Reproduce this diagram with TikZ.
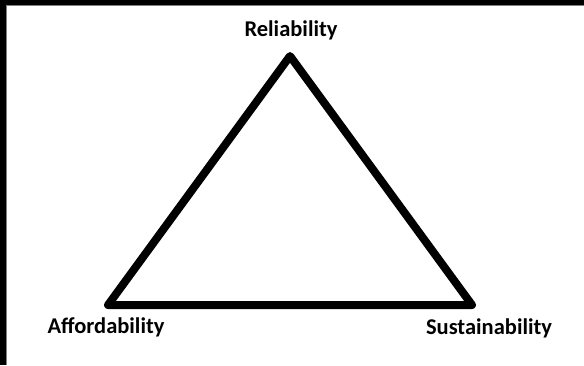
\documentclass[tikz,border=0pt]{standalone}
\usepackage{fontspec}
\setmainfont{Carlito}
\usepackage{xcolor}
\usepackage{tikz}

\begin{document}
\begin{tikzpicture}[x=1pt, y=-1pt,
        every node/.style={font=\bfseries\fontsize{22.5}{26}\selectfont, inner sep=0pt},
        side/.style={line width=8pt, line join=round}]
        \useasboundingbox (0,0) rectangle (584,365);
        \fill[black] (0,0) rectangle (584,5);
        \fill[black] (0,0) rectangle (6,365);
        \draw[gray, line width=1pt] (6,5.5) -- (584,5.5);
        \draw[gray, line width=1pt] (6.5,5) -- (6.5,365);

        \coordinate (R) at (290, 56);
        \coordinate (A) at (108, 305);
        \coordinate (S) at (472, 305);

        \node (rel) at (291, 30) {Reliability};
        \node (aff) at (106, 327) {Affordability};
        \node (sus) at (489, 328) {Sustainability};

        \draw[side] (R) -- (A) -- (S) -- cycle;
    \end{tikzpicture}
\end{document}
